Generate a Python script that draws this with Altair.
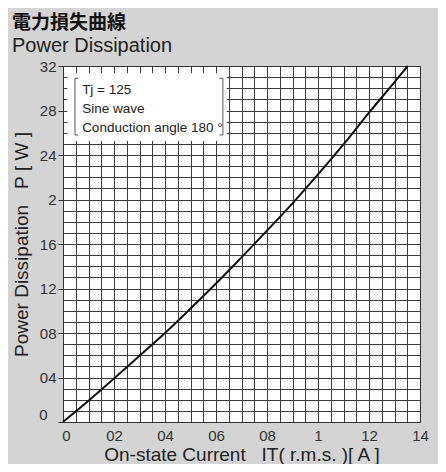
import altair as alt
import pandas as pd

# Curve: on-state current (A) vs power dissipation (W)
current = [0, 1, 2, 3, 4, 5, 6, 7, 8, 9, 10, 11, 12, 13, 13.52]
power = [0, 1.9, 3.9, 5.95, 8.0, 10.2, 12.45, 14.8, 17.2, 19.65, 22.25, 24.95, 27.8, 30.55, 32]

x_grid = [i * 0.5 for i in range(29)]
x_label_vals = [0, 2, 4, 6, 8, 10, 12, 14]
x_label_text = ["0", "02", "04", "06", "08", "1", "12", "14"]
y_grid = list(range(33))
y_label_vals = [0, 4, 8, 12, 16, 20, 24, 28, 32]
y_label_text = ["0", "04", "08", "12", "16", "2", "24", "28", "32"]

note_lines = ["Tj = 125", "Sine wave", "Conduction angle 180 °"]
note_y = [29.5, 27.8, 26.1]
note_x = 0.75
box_x = [0.17, 6.42]
box_y = [25.25, 31.35]
bracket_x = [0.47, 6.27]
bracket_y = [25.8, 30.9]
hook = 0.13

NB = "\u00a0"
x_title = f"On-state Current{NB*3}IT( r.m.s. )[ A ]"
y_title = f"Power Dissipation{NB*3}P{NB}[{NB}W{NB}]"

def label_expr(vals, texts):
    expr = "''"
    for v, t in zip(reversed(vals), reversed(texts)):
        expr = f"datum.value == {v} ? '{t}' : ({expr})"
    return expr

curve_df = pd.DataFrame({"I": current, "P": power})

xs = alt.Scale(domain=[0, 14], nice=False, zero=False)
ys = alt.Scale(domain=[0, 32], nice=False, zero=False)

FONT = "Liberation Sans"

x_axis = alt.Axis(
    values=x_grid, labelExpr=label_expr(x_label_vals, x_label_text),
    grid=True, gridColor="#333", gridWidth=1, gridOpacity=0.95,
    ticks=False, domain=False, labelFont=FONT, labelFontSize=15,
    labelColor="#333", labelPadding=6, labelFlush=False, labelOverlap=False,
    labelOffset=alt.condition("datum.value == 0", alt.value(3), alt.value(0)),
    title=x_title, titleFont=FONT, titleFontSize=19,
    titleFontWeight="normal", titleColor="#222", titleY=38, titleBaseline="alphabetic",
)
y_axis = alt.Axis(
    values=y_grid, labelExpr=label_expr(y_label_vals, y_label_text),
    grid=True, gridColor="#333", gridWidth=1, gridOpacity=0.95,
    tickSize=5, tickColor="#333",
    tickOpacity=alt.condition("datum.value % 4 == 0", alt.value(1), alt.value(0)),
    domain=False, labelFont=FONT, labelFontSize=15, labelColor="#333",
    labelPadding=alt.condition("datum.value == 0", alt.value(11), alt.value(2)),
    labelOffset=alt.condition("datum.value == 0", alt.value(-8), alt.value(0)),
    labelFlush=False, labelOverlap=False,
    title=y_title, titleFont=FONT, titleFontSize=19,
    titleFontWeight="normal", titleColor="#222", titleX=-36, titleBaseline="alphabetic",
)

def X(field):
    return alt.X(field, scale=xs, axis=x_axis)

def Y(field):
    return alt.Y(field, scale=ys, axis=y_axis)

curve = alt.Chart(curve_df).mark_line(color="#111", strokeWidth=2, interpolate="monotone").encode(
    x=X("I:Q"), y=Y("P:Q"),
)

box = alt.Chart(pd.DataFrame({"x": [box_x[0]], "x2": [box_x[1]], "y": [box_y[0]], "y2": [box_y[1]]})).mark_rect(
    fill="white"
).encode(x=X("x:Q"), x2="x2:Q", y=Y("y:Q"), y2="y2:Q")

br_rows = []
for side, bx in enumerate(bracket_x):
    d = hook if side == 0 else -hook
    br_rows.append({"x": bx, "x2": bx, "y": bracket_y[0], "y2": bracket_y[1]})
    br_rows.append({"x": bx, "x2": bx + d, "y": bracket_y[0], "y2": bracket_y[0]})
    br_rows.append({"x": bx, "x2": bx + d, "y": bracket_y[1], "y2": bracket_y[1]})
brackets = alt.Chart(pd.DataFrame(br_rows)).mark_rule(color="#555", strokeWidth=1).encode(
    x=X("x:Q"), x2="x2:Q", y=Y("y:Q"), y2="y2:Q"
)

notes = alt.Chart(pd.DataFrame({"t": note_lines, "y": note_y, "x": [note_x] * 3})).mark_text(
    align="left", baseline="alphabetic", font=FONT, fontSize=13.5, color="#222"
).encode(x=X("x:Q"), y=Y("y:Q"), text="t:N")

chart = alt.layer(box, brackets, notes, curve).properties(
    width=357, height=356,
    autosize=alt.AutoSizeParams(type="none"),
    padding={"left": 55, "top": 58, "right": 18, "bottom": 42},
    background="#d4d4d4",
    title=alt.Title(
        "電力損失曲線", subtitle="Power Dissipation", anchor="start", frame="group",
        dx=-51, offset=3, font="Noto Sans CJK JP", fontSize=19, fontWeight="bold",
        color="#111", subtitleFont=FONT, subtitleFontSize=20, subtitleColor="#222",
        subtitlePadding=3,
    ),
).configure_view(fill="white", stroke="#333", strokeWidth=1)

chart.save("out.html", embed_options={"renderer": "svg", "actions": False})
